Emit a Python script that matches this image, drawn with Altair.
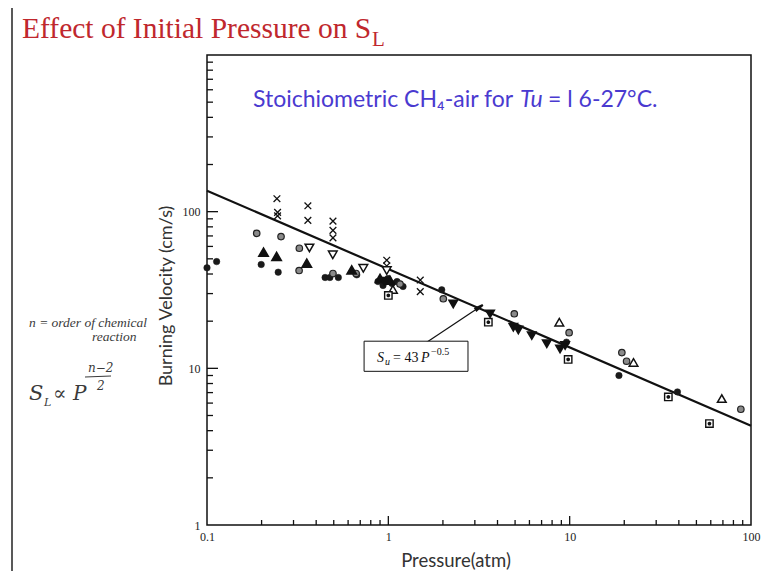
import altair as alt
import pandas as pd

# ---------------- data ----------------
cross_p = [0.243, 0.245, 0.245, 0.36, 0.36, 0.495, 0.495, 0.495, 0.98, 0.98, 1.50, 1.50]
cross_s = [121, 99, 94, 109, 88, 87, 76, 68, 49, 45, 36.6, 30.9]

gray_p = [0.188, 0.256, 0.323, 0.322, 0.495, 0.664, 1.16, 2.01, 4.95, 9.93, 19.4, 20.6, 87.9]
gray_s = [72.7, 69.3, 58.4, 42.1, 40.3, 40.3, 34.5, 27.8, 22.3, 16.9, 12.6, 11.1, 5.48]

dark_p = [0.1, 0.113, 0.199, 0.247, 0.448, 0.476, 0.53, 0.67, 0.877, 0.935, 0.996,
          1.048, 1.117, 1.205, 1.97, 9.6, 18.7, 39.3]
dark_s = [43.8, 48, 46, 41.1, 38, 38, 38, 39.5, 35.8, 33.8, 37.4,
          34.8, 35.8, 33.3, 31.7, 14.7, 9.0, 7.07]

ftri_p = [0.205, 0.242, 0.355, 0.628, 0.90, 1.02]
ftri_s = [55.1, 51.7, 46.9, 42.5, 37.4, 36.5]

oinv_p = [0.367, 0.494, 0.728, 0.98]
oinv_s = [58.7, 53.0, 43.5, 42.1]

finv_p = [0.95, 2.28, 3.64, 4.89, 5.21, 6.18, 7.48, 8.85, 9.44]
finv_s = [36, 25.8, 22.3, 18.3, 17.6, 16.2, 14.4, 13.3, 14.0]

otri_p = [1.06, 8.77, 22.5, 69.0]
otri_s = [31.9, 19.7, 10.9, 6.41]

osq_p = [1.0, 3.56, 9.81, 35.0, 59.0]
osq_s = [29.2, 19.7, 11.4, 6.57, 4.44]

# correlation S_u = 43 P^-0.5 (end points)
line_p = [0.1, 100]
line_s = [136, 4.3]

# annotation box and arrow (data coordinates)
box_p = [0.735, 2.75]
box_s = [9.57, 14.9]
arrow_p = [1.59, 3.13]
arrow_s = [14.4, 24.3]

# axis ticks / labels
x_labels = [0.1, 1, 10, 100]
y_labels = [1, 10, 100]
x_major = [1, 10]
x_minor = [0.2, 0.3, 0.4, 0.5, 0.6, 0.7, 0.8, 0.9, 2, 3, 4, 5, 6, 7, 8, 9,
           20, 30, 40, 50, 60, 70, 80, 90]
y_major = [10, 100]
y_minor = [2, 3, 4, 5, 6, 7, 8, 9, 20, 30, 40, 50, 60, 70, 80, 90,
           200, 300, 400, 500, 600, 700, 800, 900]

# ---------------- chart ----------------
W, H = 544, 470
INK = "#111111"
xs = alt.Scale(type="log", domain=[0.1, 100], nice=False)
ys = alt.Scale(type="log", domain=[1, 1000], nice=False)

x_axis = alt.Axis(values=x_labels, format="~g", tickSize=0, domain=False, grid=False,
                  labelFont="Liberation Serif", labelFontSize=12, labelColor="#222",
                  labelPadding=6, title=None, labelFlush=False)
y_axis = alt.Axis(values=y_labels, format="~g", tickSize=0, domain=False, grid=False,
                  labelFont="Liberation Serif", labelFontSize=12, labelColor="#222",
                  labelPadding=7, title=None)


def X():
    return alt.X("p:Q", scale=xs, axis=x_axis)


def Y():
    return alt.Y("s:Q", scale=ys, axis=y_axis)


def pts(p, s, **mk):
    df = pd.DataFrame({"p": p, "s": s})
    return alt.Chart(df).mark_point(opacity=1, **mk).encode(x=X(), y=Y())


def txt(s, x, y, size, color, font, style="normal", align="left",
        baseline="alphabetic", angle=None, weight="normal"):
    kw = dict(text=s, fontSize=size, color=color, font=font, fontStyle=style,
              align=align, baseline=baseline, fontWeight=weight)
    if angle is not None:
        kw["angle"] = angle
    return alt.Chart(pd.DataFrame({"t": [s]})).mark_text(**kw).encode(
        x=alt.value(x), y=alt.value(y))


line = alt.Chart(pd.DataFrame({"p": line_p, "s": line_s})).mark_line(
    color=INK, strokeWidth=2.2).encode(x=X(), y=Y())


def xticks(vals, L):
    return alt.Chart(pd.DataFrame({"p": vals})).mark_rule(color=INK, strokeWidth=1.3).encode(
        x=X(), y=alt.value(H), y2=alt.value(H - L))


def yticks(vals, L):
    return alt.Chart(pd.DataFrame({"s": vals})).mark_rule(color=INK, strokeWidth=1.3).encode(
        y=Y(), x=alt.value(0), x2=alt.value(L))


box = alt.Chart(pd.DataFrame({"p": [box_p[0]], "p2": [box_p[1]],
                              "s": [box_s[0]], "s2": [box_s[1]]})).mark_rect(
    fill="white", stroke=INK, strokeWidth=1).encode(
    x=X(), x2="p2:Q", y=Y(), y2="s2:Q")

arrow = alt.Chart(pd.DataFrame({"p": arrow_p, "s": arrow_s})).mark_line(
    color=INK, strokeWidth=1.2).encode(x=X(), y=Y())
arrow_head = pts([arrow_p[1]], [arrow_s[1]], shape="wedge", angle=56.6, filled=True,
                 fill=INK, stroke=INK, size=90)

cross_shape = "M-1,-1L1,1M-1,1L1,-1"
layers = [
    line,
    xticks(x_minor, 5), xticks(x_major, 9),
    yticks(y_minor, 6), yticks(y_major, 11),
    arrow, arrow_head, box,
    pts(cross_p, cross_s, shape=cross_shape, filled=False, stroke=INK, strokeWidth=1.3, size=45),
    pts(dark_p, dark_s, shape="circle", filled=True, fill="#1a1a1a", stroke="#1a1a1a",
        strokeWidth=0.5, size=42),
    pts(gray_p, gray_s, shape="circle", filled=True, fill="#8a8a8a", stroke="#222",
        strokeWidth=1.2, size=42),
    pts(ftri_p, ftri_s, shape="triangle-up", filled=True, fill=INK, stroke=INK, size=75),
    pts(finv_p, finv_s, shape="triangle-down", filled=True, fill=INK, stroke=INK, size=60),
    pts(oinv_p, oinv_s, shape="triangle-down", filled=True, fill="white", stroke=INK,
        strokeWidth=1.5, size=75),
    pts(otri_p, otri_s, shape="triangle-up", filled=True, fill="white", stroke=INK,
        strokeWidth=1.5, size=75),
    pts(osq_p, osq_s, shape="square", filled=True, fill="white", stroke=INK,
        strokeWidth=1.4, size=55),
    pts(osq_p, osq_s, shape="circle", filled=True, fill=INK, stroke=INK, size=3),
]

# texts (pixel positions relative to the plot's top-left corner)
RED = "#c0272d"
BLUE = "#4a3ad0"
HAND = "#3a3a3a"
texts = [
    txt("Effect of Initial Pressure on S", -185, -17, 29.5, RED, "Liberation Serif"),
    txt("L", 165, -9, 21, RED, "Liberation Serif"),
    txt("Stoichiometric CH\u2084-air for", 46, 52, 23, BLUE, "Lato"),
    txt("Tu", 313, 52, 23, BLUE, "Lato", style="italic"),
    txt("= l 6-27\u00b0C.", 341, 52, 23, BLUE, "Lato"),
    txt("Burning Velocity (cm/s)", -40, 241, 18, "#333", "Lato", align="center",
        baseline="middle", angle=270),
    txt("Pressure(atm)", 249, 506, 18.5, "#333", "Lato", align="center", baseline="middle"),
    # equation in the box
    txt("S", 170, 307, 14, INK, "Liberation Serif", style="italic"),
    txt("u", 178, 310, 10, INK, "Liberation Serif", style="italic"),
    txt("= 43", 186, 307, 14, INK, "Liberation Serif"),
    txt("P", 214, 307, 14, INK, "Liberation Serif", style="italic"),
    txt("\u22120.5", 224, 300, 10, INK, "Liberation Serif"),
    # handwritten notes
    txt("n = order of chemical", -178, 272, 13.5, HAND, "Liberation Serif", style="italic"),
    txt("reaction", -115, 286, 13.5, HAND, "Liberation Serif", style="italic"),
    txt("S", -178, 345, 21, HAND, "DejaVu Serif", style="italic"),
    txt("L", -163, 351, 11, HAND, "DejaVu Serif", style="italic"),
    txt("\u221d P", -154, 345, 20, HAND, "DejaVu Serif", style="italic"),
    txt("n\u22122", -119, 317, 12, HAND, "DejaVu Serif", style="italic"),
    txt("2", -110, 335, 12, HAND, "DejaVu Serif", style="italic"),
]

frac_bar = alt.Chart(pd.DataFrame({"a": [0]})).mark_rule(color=HAND, strokeWidth=1.2).encode(
    x=alt.value(-122), x2=alt.value(-96), y=alt.value(322), y2=alt.value(321))
slide_edge = alt.Chart(pd.DataFrame({"a": [0]})).mark_rule(color="#222", strokeWidth=1.5).encode(
    x=alt.value(-195), x2=alt.value(-195), y=alt.value(-47), y2=alt.value(520))

chart = alt.layer(*layers, *texts, frac_bar, slide_edge).properties(
    width=W, height=H,
    padding={"left": 199, "top": 47, "right": 10, "bottom": 46},
    autosize=alt.AutoSizeParams(type="none"),
    background="white",
).configure_view(stroke=INK, strokeWidth=1.5)

chart.save("out.html", embed_options={"renderer": "svg", "actions": False})
